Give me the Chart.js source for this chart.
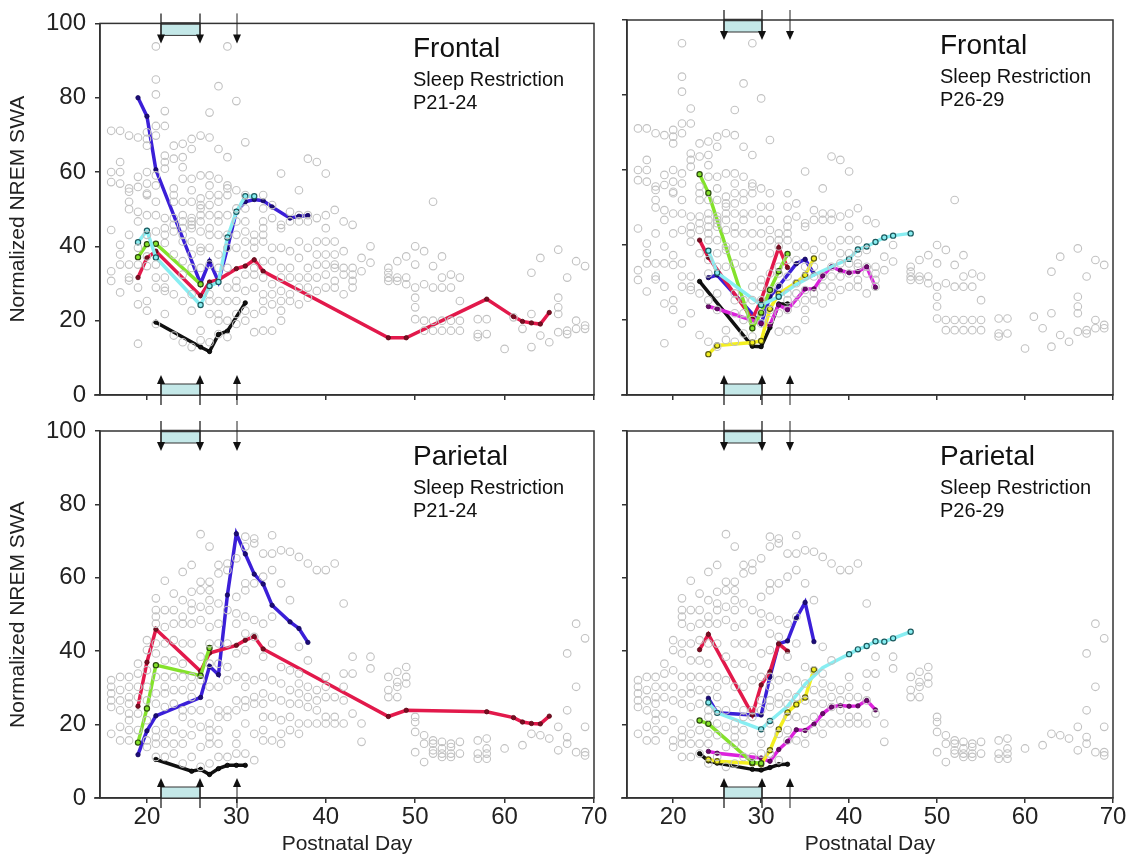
<!DOCTYPE html>
<html>
<head>
<meta charset="utf-8">
<script src="https://cdn.jsdelivr.net/npm/chart.js"></script>
<style>
  body { margin: 0; background: #fff; width: 1131px; height: 858px; position: relative; overflow: hidden; }
  canvas { position: absolute; left: 0; top: 0; }
</style>
</head>
<body>
<canvas id="fA" width="1131" height="858"></canvas>
<canvas id="fB" width="1131" height="858"></canvas>
<canvas id="pA" width="1131" height="858"></canvas>
<canvas id="pB" width="1131" height="858"></canvas>
<script>
// ---- axes ----
const xTicks = [20, 30, 40, 50, 60, 70];
const yTicks = [0, 20, 40, 60, 80, 100];
const xMin = 14.75, xMax = 70;

// restriction box + arrows (postnatal day)
const arrowsP21 = [21.6, 25.9, 30.1];
const arrowsP26 = [25.8, 30.1, 33.3];

// ---- grey background animals, [day, [values]] ----
const frontalBg = [
  [16, [71.1, 60, 57.3, 44.4, 33.3, 30.7]],
  [17, [71.1, 62.7, 60, 56.9, 40.4, 37.8, 35.1, 27.6]],
  [18, [69.8, 55.6, 54.7, 52, 50, 43.1, 35.1, 31.6, 30.8]],
  [19, [69.3, 58.7, 56, 49.3, 46.7, 39.6, 35.1, 28.9, 24.4, 13.8]],
  [20, [70.7, 68.9, 67.1, 60, 56.9, 54.2, 53.8, 48.4, 43.1, 37.3, 34.7, 25.3, 22.7]],
  [21, [93.8, 84.9, 80.9, 72.4, 69.8, 59.1, 56.4, 52, 48.4, 44, 35.1, 31.6, 28.9, 19.1]],
  [22, [76.4, 72.4, 64.4, 62.7, 60.9, 47.6, 44.9, 43.1, 40.9, 31.6, 28.9, 28, 21.8]],
  [23, [67.1, 63.6, 55.6, 53.8, 52, 47.6, 45.8, 44, 37.8, 27.1, 16]],
  [24, [67.6, 64, 61.3, 58.2, 52, 48.4, 46.7, 44.9, 43.1, 41.3, 36, 32.4, 25.3, 14.2]],
  [25, [68.9, 66.2, 58.2, 55.1, 52, 47.6, 46.7, 45.8, 44.9, 41.3, 37.8, 34.2, 27.1, 22.7, 12.9]],
  [26, [69.8, 59.1, 52.9, 51.1, 50.2, 48.4, 46.7, 44, 39.6, 38.7, 34.2, 17.3, 14.7]],
  [27, [76, 69.3, 59.1, 56.4, 53.8, 51.1, 48.4, 44.9, 43.1, 39.6, 35.1, 27.1, 25.3, 21.8, 14.2]],
  [28, [83.1, 66.2, 58.2, 53.8, 52, 48.4, 46.7, 43.1, 37.8, 34.2, 25.3, 21.8, 20, 16.4]],
  [29, [93.8, 64, 56.4, 55.6, 53.8, 48.4, 43.1, 39.6, 34.2, 28.9, 25.3, 20, 15.6]],
  [30, [79.1, 55.1, 50.2, 46.7, 43.1, 39.6, 30.7, 28.9, 25.3, 21.8, 19.1]],
  [31, [68, 53.8, 50.2, 46.7, 44, 41.3, 37.8, 32.4, 28, 22.7, 20]],
  [32, [43.1, 41.3, 39.6, 34.2, 32.4, 28.9, 21.8, 16.9]],
  [33, [53.8, 50.2, 46.7, 44.9, 43.1, 41.3, 36, 31.6, 27.1, 25.3, 22.7, 17.3]],
  [34, [51.1, 47.6, 39.6, 36, 29.8, 27.1, 24.4, 17.3]],
  [35, [59.6, 45.8, 44.9, 39.6, 34.2, 31.6, 28, 25.3, 22.7, 20]],
  [36, [49.3, 46.7, 38.7, 34.2, 31.6, 27.1, 25.3]],
  [37, [55.1, 48.4, 46.7, 41.3, 36.9, 31.6, 28.9, 24.4]],
  [38, [63.6, 48.4, 46.7, 39.6, 34.2, 31.6, 28.9, 26.2]],
  [39, [62.7, 47.6, 41.3, 37.8, 35.1, 31.6, 28]],
  [40, [59.6, 48.4, 44.9, 41.3, 37.8, 35.1, 32.4, 28.9]],
  [41, [49.8, 41.3, 37.8, 35.1, 34.2, 30.7, 28.9]],
  [42, [46.7, 38.7, 34.2, 32.4, 27.1]],
  [43, [45.8, 34.2, 32.4, 30.7, 28.9]],
  [44, [36.9, 33.3]],
  [45, [40, 35.6]],
  [47, [34.2, 32.9, 31.6, 30.7]],
  [48, [36, 31.6, 30.7]],
  [49, [37.3, 31.6, 29.8]],
  [50, [40, 35.1, 28.9, 26.2, 23.6, 20.4]],
  [51, [38.7, 29.8, 20, 17.3]],
  [52, [52, 34.7, 28.9, 20, 17.3]],
  [53, [37.3, 31.6, 28.9, 20, 17.3]],
  [54, [32.4, 28.9, 20, 17.3]],
  [55, [31.6, 25.3, 20, 17.3]],
  [57, [20.4, 16.4, 15.6]],
  [58, [20.4, 16.4]],
  [60, [12.4]],
  [61, [20.9]],
  [62, [17.8]],
  [63, [32.9, 21.8, 12.9]],
  [64, [36.9, 16]],
  [65, [14.2]],
  [66, [39.1, 26.2, 23.6, 21.8, 16.9]],
  [67, [31.6, 17.3, 16.4]],
  [68, [36, 20, 17.8]],
  [69, [34.7, 18.7, 17.8]]
];

const parietalBg = [
  [16, [32.1, 30.3, 28.5, 26.6, 24.8, 17.5]],
  [17, [33, 29.4, 26.6, 23.9, 19.4, 15.7]],
  [18, [33, 30.3, 27.5, 25.7, 23, 21.2, 18.5, 15.7]],
  [19, [36.6, 33.9, 30.3, 27.5, 23, 18.5]],
  [20, [43, 40.3, 34.8, 30.3, 26.6, 21.2, 15.7, 13.9]],
  [21, [54.4, 51.2, 49.4, 47.5, 42.1, 39.4, 33, 28.5, 25.7, 18.5, 16.6, 14.8, 11.2]],
  [22, [59.2, 51.2, 46.6, 42.1, 37.5, 33, 30.3, 28.5, 24.8, 20.3, 17.5, 14.8, 11.2]],
  [23, [55.7, 51.2, 47.5, 43, 37.5, 33, 29.4, 25.7, 18.5, 14.8, 12.1]],
  [24, [61.6, 53.9, 49.4, 47.5, 42.1, 36.6, 33, 29.4, 23.9, 22.1, 17.5, 14.8, 9.4]],
  [25, [63.5, 56.2, 53, 51.2, 47.5, 42.1, 33, 30.3, 27.5, 23.9, 20.3, 17.1, 11.2]],
  [26, [71.9, 58.9, 56.6, 52.1, 48.5, 38.5, 32.1, 23.9, 19.4, 13.9, 8.5]],
  [27, [68.5, 58.9, 56.6, 53.9, 51.2, 46.6, 42.1, 36.6, 30.3, 25.7, 20.3, 18.5, 16.6, 14.8, 9.4]],
  [28, [63.5, 61.2, 53, 47.5, 42.1, 36.6, 30.3, 23.9, 22.1, 18.5, 14.8, 11.2]],
  [29, [63.9, 62.1, 51.2, 42.1, 35.7, 32.1, 23.9, 22.1, 11.2]],
  [30, [65.3, 54.8, 50.3, 47.5, 39.4, 33, 26.6, 23.9, 17.5, 14.8, 12.1]],
  [31, [71.2, 68.5, 58.5, 56.6, 49.4, 44.8, 40.3, 33, 30.3, 26.6, 24.8, 20.3, 12.1]],
  [32, [70.7, 69.4, 58.5, 48.5, 43.9, 32.1, 27.5, 25.7, 17.5, 10.3]],
  [33, [66.6, 60.3, 47.5, 38.5, 33, 28.5, 25.7, 22.1, 18.5, 15.7]],
  [34, [71.6, 66.6, 62.1, 49.4, 42.1, 32.1, 27.5, 22.1, 15.7]],
  [35, [67.5, 58.5, 35.7, 31.2, 26.6, 21.2, 17.5, 14.8]],
  [36, [67.1, 53.9, 34.8, 29.4, 25.7, 22.1, 18.5]],
  [37, [65.7, 41.2, 33.9, 31.2, 28.5, 25.7, 20.3, 17.5]],
  [38, [63.9, 37.5, 30.3, 27.5, 24.8, 20.3]],
  [39, [62.1, 29.4, 26.6, 23.9, 20.3]],
  [40, [62.1, 33, 30.3, 27.5, 22.1, 20.3]],
  [41, [63.9, 27.5, 22.1, 20.3]],
  [42, [53, 33.9, 30.3, 26.6, 20.3]],
  [43, [38.5, 33.9, 23]],
  [44, [20.3, 15.3]],
  [45, [38.5, 35.3]],
  [47, [33, 29.4, 27.5]],
  [48, [34.4, 31.6, 30.3, 27.5]],
  [49, [35.7, 33, 31.2]],
  [50, [22.1, 20.7, 18, 12.5]],
  [51, [17.1, 14.8, 9.8]],
  [52, [15.7, 14.8, 13, 12.1]],
  [53, [15.3, 13.5, 12.1, 11.2]],
  [54, [14.8, 13.9, 12.1, 11.2]],
  [55, [15.3, 12.1]],
  [57, [15.7, 12.1, 10.7]],
  [58, [16.2, 13.5, 12.1, 10.7]],
  [60, [13.5]],
  [62, [14.4]],
  [63, [17.5]],
  [64, [17.1]],
  [65, [16.2]],
  [66, [19.4, 13]],
  [67, [39.4, 23.9, 16.6, 14.8]],
  [68, [47.5, 30.3, 12.5]],
  [69, [43.5, 19.4, 12.5, 11.6]]
];

// ---- individual animals, [day, value, (0 = no marker)] ----
// Frontal, restriction P21-24
const fA_cyan  = [[19,41.1],[20,44.2],[21,37],[26,24.2],[27,29.3],[28,30.4],[29,42.4],[30,49.3],[31,53.5],[32,53.5]];
const fA_green = [[19,37.1],[20,40.6],[21,40.7],[26,29.8]];
const fA_red   = [[19,31.6],[20,36.9],[21,38.7],[26,26.7],[27,30.4],[28,31],[30,34],[31,34.7],[32,36.4],[33,33.3],[47,15.4],[49,15.4],[58,25.8],[61,21.1],[62,19.8],[63,19.4],[64,19.1],[65,22.2]];
const fA_blue  = [[19,80],[20,75],[21,60.6],[26,30],[27,36],[28,30.5],[29,39.5],[30,49.4],[31,52],[32,52.6],[33,52.3],[34,50.6],[36,47.6],[37,48.1],[38,48.3]];
const fA_black = [[21,19.6],[26,12.9],[27,11.7],[28,16.3],[29,17.2],[31,24.8]];

// Frontal, restriction P26-29
const fB_cyan    = [[24,38.5],[25,32.6],[30,24],[32,26.2],[34,29.5,0],[36,32,0],[38,34.2,0],[40,36.3],[41,38.8],[42,39.6],[43,40.8],[44,42],[45,42.5],[47,43.1]];
const fB_green   = [[23,58.9],[24,53.9],[29,17.8],[30,22],[31,28],[32,33],[33,37.6]];
const fB_yellow  = [[24,10.9],[25,13.2],[29,14],[30,14.4],[31,23],[32,27],[34,30],[35,32],[36,36.4]];
const fB_magenta = [[24,23.6],[25,23],[30,19.1],[31,18.7],[32,24],[33,22.7],[35,28.3],[36,28.3],[37,31.8],[38,34.2],[39,33.2],[40,32.6],[41,32.9],[42,34.2],[43,28.7]];
const fB_red     = [[23,41.3],[24,36.7],[29,20.3],[30,25.3],[32,39.3],[33,34]];
const fB_black   = [[23,30.3],[29,13],[30,12.9],[31,18],[32,24.3],[33,24.3]];
const fB_blue    = [[24,31.3],[25,32],[30,19],[31,26.2],[32,29],[34,35],[35,36.2],[36,32.3]];

// Parietal, restriction P21-24
const pA_green = [[19,15.1],[20,24.4],[21,36.2],[26,33.3],[27,40.9]];
const pA_red   = [[19,25],[20,37],[21,46],[26,34.5],[27,39.5],[30,41.6],[31,43],[32,44],[33,40.6],[47,22.2],[49,23.9],[58,23.5],[61,21.9],[62,20.7],[63,20.3],[64,20.2],[65,22.3]];
const pA_blue  = [[19,11.8],[20,18.3],[21,22.4],[26,27.4],[27,35.9],[28,33.6],[29,55.3],[30,72],[31,66.5],[32,61],[33,58.3],[34,52.5],[36,48],[37,46.2],[38,42.4]];
const pA_black = [[21,10.5],[25,7.3],[26,7.8],[27,6.4],[28,8],[29,8.9],[30,8.9],[31,8.9]];

// Parietal, restriction P26-29
const pB_cyan    = [[24,26],[25,23.2],[30,18.7],[31,21],[33,25,0],[35,31,0],[37,35.5,0],[39,38,0],[40,39.2],[41,40.5],[42,41.4],[43,42.7],[44,42.6],[45,43.5],[47,45.3]];
const pB_green   = [[23,21.1],[24,20.2],[29,9.7],[30,9.5]];
const pB_yellow  = [[24,10.5],[25,10],[29,9.5],[30,9.2],[31,13],[32,18.7],[33,23.3],[34,25.5],[35,27.4],[36,35]];
const pB_magenta = [[24,12.7],[25,12.2],[30,10.9],[31,10],[32,13.2],[33,15.4],[34,18.6],[35,18.4],[36,20.1],[37,23],[38,24.8],[39,25.2],[40,25],[41,25.1],[42,26.6],[43,24]];
const pB_black   = [[23,12.1],[24,10.1],[25,9.5],[29,7.8],[30,7.6],[31,8.3],[32,9.1],[33,9.2]];
const pB_red     = [[23,40.4],[24,44.6],[29,22.7],[30,30.8],[31,34.4],[32,42],[33,40]];
const pB_blue    = [[24,27.2],[25,23.2],[29,22.6],[30,22.6],[31,33],[32,42],[33,42.8],[34,49],[35,53.3],[36,42.6]];

// line colour, marker fill, marker edge
const colours = {
  red:     ['#e2194b', '#7a0d22', '#5a0a18'],
  blue:    ['#3b1fd8', '#1c0c78', '#14085a'],
  green:   ['#84e22b', '#84e22b', '#2c4a10'],
  cyan:    ['#88eef2', '#88eef2', '#1c5a5e'],
  black:   ['#111111', '#111111', '#000000'],
  yellow:  ['#f3ef20', '#f3ef20', '#5a5a10'],
  magenta: ['#dc22dc', '#6a0a6a', '#4a064a']
};

Chart.defaults.font.family = "'Liberation Sans', Arial, sans-serif";
Chart.defaults.color = '#222';

const frameAndArrows = {
  id: 'frameAndArrows',
  afterDraw(chart, args, o) {
    const { ctx, chartArea: a, scales: { x } } = chart;
    ctx.save();
    ctx.strokeStyle = '#333';
    ctx.lineWidth = 1.5;
    ctx.strokeRect(a.left, a.top, a.right - a.left, a.bottom - a.top);
    ctx.beginPath();
    ctx.moveTo(a.left - 6, a.bottom);
    ctx.lineTo(a.left, a.bottom);
    ctx.stroke();

    const px = o.arrows.map(d => Math.round(x.getPixelForValue(d)));
    // restriction boxes
    ctx.fillStyle = '#c4e8e8';
    ctx.lineWidth = 1;
    ctx.fillRect(px[0], a.top, px[1] - px[0], 12);
    ctx.strokeRect(px[0], a.top, px[1] - px[0], 12);
    ctx.fillRect(px[0], a.bottom - 11, px[1] - px[0], 11);
    ctx.strokeRect(px[0], a.bottom - 11, px[1] - px[0], 11);
    ctx.lineWidth = 2.5;
    ctx.beginPath();
    ctx.moveTo(px[0], a.top); ctx.lineTo(px[1], a.top);
    ctx.stroke();

    ctx.fillStyle = '#111';
    ctx.strokeStyle = '#222';
    px.forEach((p, i) => {
      ctx.lineWidth = i === 2 ? 1 : 1.3;
      ctx.beginPath();
      ctx.moveTo(p, a.top - 10); ctx.lineTo(p, a.top + 12);
      ctx.moveTo(p, a.bottom + 10); ctx.lineTo(p, a.bottom - 12);
      ctx.stroke();
      ctx.beginPath();
      ctx.moveTo(p, a.top + 20); ctx.lineTo(p - 4, a.top + 11); ctx.lineTo(p + 4, a.top + 11);
      ctx.closePath(); ctx.fill();
      ctx.beginPath();
      ctx.moveTo(p, a.bottom - 20); ctx.lineTo(p - 4, a.bottom - 11); ctx.lineTo(p + 4, a.bottom - 11);
      ctx.closePath(); ctx.fill();
    });

    // panel captions
    ctx.fillStyle = '#111';
    ctx.textAlign = 'left';
    ctx.textBaseline = 'middle';
    const tx = a.left + 313;
    ctx.font = "28px 'Liberation Sans', Arial, sans-serif";
    ctx.fillText(o.region, tx, a.top + 26);
    ctx.font = "20px 'Liberation Sans', Arial, sans-serif";
    ctx.fillText('Sleep Restriction', tx, a.top + 57);
    ctx.fillText(o.period, tx, a.top + 80);
    ctx.restore();
  }
};

function bgPoints(rows) {
  const pts = [];
  rows.forEach(([d, vals]) => vals.forEach(v => pts.push({ x: d, y: v })));
  return pts;
}

function animal(rows, name) {
  const [line, fill, edge] = colours[name];
  const hollow = ['green', 'cyan', 'yellow'].includes(name);
  return {
    data: rows.map(r => ({ x: r[0], y: r[1], m: r[2] })),
    showLine: true,
    borderColor: line,
    borderWidth: 3.5,
    pointRadius: c => (c.raw && c.raw.m === 0 ? 0 : (hollow ? 2.6 : 2.2)),
    pointBackgroundColor: fill,
    pointBorderColor: edge,
    pointBorderWidth: hollow ? 1.2 : 0.8,
    tension: 0
  };
}

function panel(id, area, bg, animals, opt) {
  const padLeft = opt.yLabels ? 0 : area.left - 12;
  const yW = area.left - padLeft;
  const xH = opt.xLabels ? 858 - area.bottom : 12;
  const datasets = [{
    data: bgPoints(bg),
    pointRadius: 3.8,
    pointBorderWidth: 1.1,
    pointBorderColor: '#c2c2c2',
    pointBackgroundColor: 'rgba(255,255,255,0)',
    showLine: false
  }].concat(animals.map(a => animal(a[0], a[1])));

  new Chart(document.getElementById(id), {
    type: 'scatter',
    data: { datasets },
    options: {
      responsive: false,
      animation: false,
      events: [],
      layout: { padding: { left: padLeft, top: area.top, right: 1131 - area.right, bottom: 858 - area.bottom - xH } },
      plugins: {
        legend: { display: false },
        tooltip: { enabled: false },
        frameAndArrows: { arrows: opt.arrows, region: opt.region, period: opt.period }
      },
      scales: {
        x: {
          type: 'linear', min: xMin, max: xMax,
          afterBuildTicks: s => { s.ticks = xTicks.map(v => ({ value: v })); },
          afterFit: s => { s.height = xH; },
          ticks: { display: opt.xLabels, font: { size: 24 }, color: '#222', padding: 0, maxRotation: 0 },
          grid: { drawOnChartArea: false, drawTicks: true, tickLength: 5, color: '#333', lineWidth: 1.5 },
          border: { display: true, color: '#333', width: 1.5 },
          title: { display: opt.xLabels, text: 'Postnatal Day', font: { size: 21 }, color: '#222', padding: { top: 0, bottom: 1 } }
        },
        y: {
          min: 0, max: 100,
          afterBuildTicks: s => { s.ticks = yTicks.map(v => ({ value: v })); },
          afterFit: s => { s.width = yW; },
          ticks: { display: opt.yLabels, font: { size: 24 }, color: '#222', padding: 9 },
          grid: { drawOnChartArea: false, drawTicks: true, tickLength: 5, color: '#333', lineWidth: 1.5 },
          border: { display: true, color: '#333', width: 1.5 },
          title: { display: opt.yLabels, text: 'Normalized NREM SWA', font: { size: 21 }, color: '#222', padding: { top: 6, bottom: 0 } }
        }
      }
    },
    plugins: [frameAndArrows]
  });
}

const topRow = { top: 20, bottom: 395 };
const botRow = { top: 431, bottom: 798 };
const leftCol = { left: 100, right: 594 };
const rightCol = { left: 627, right: 1113 };

panel('fA', { ...leftCol, ...topRow }, frontalBg,
  [[fA_cyan, 'cyan'], [fA_green, 'green'], [fA_red, 'red'], [fA_blue, 'blue'], [fA_black, 'black']],
  { yLabels: true, xLabels: false, arrows: arrowsP21, region: 'Frontal', period: 'P21-24' });

panel('fB', { ...rightCol, ...topRow }, frontalBg,
  [[fB_cyan, 'cyan'], [fB_green, 'green'], [fB_yellow, 'yellow'], [fB_magenta, 'magenta'], [fB_red, 'red'], [fB_black, 'black'], [fB_blue, 'blue']],
  { yLabels: false, xLabels: false, arrows: arrowsP26, region: 'Frontal', period: 'P26-29' });

panel('pA', { ...leftCol, ...botRow }, parietalBg,
  [[pA_green, 'green'], [pA_red, 'red'], [pA_blue, 'blue'], [pA_black, 'black']],
  { yLabels: true, xLabels: true, arrows: arrowsP21, region: 'Parietal', period: 'P21-24' });

panel('pB', { ...rightCol, ...botRow }, parietalBg,
  [[pB_cyan, 'cyan'], [pB_green, 'green'], [pB_yellow, 'yellow'], [pB_magenta, 'magenta'], [pB_black, 'black'], [pB_red, 'red'], [pB_blue, 'blue']],
  { yLabels: false, xLabels: true, arrows: arrowsP26, region: 'Parietal', period: 'P26-29' });
</script>
</body>
</html>
